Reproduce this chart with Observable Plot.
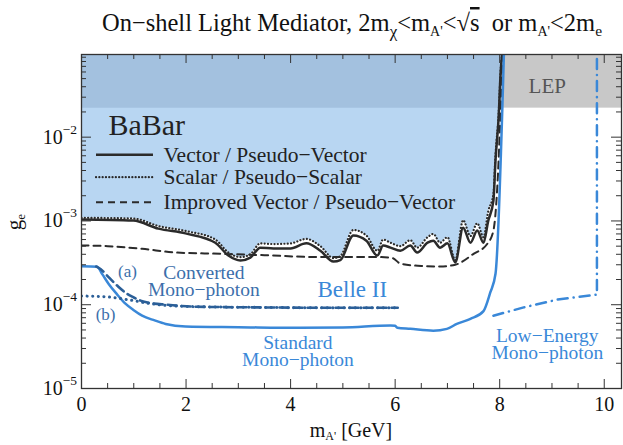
<!DOCTYPE html>
<html><head><meta charset="utf-8">
<script src="https://cdn.jsdelivr.net/npm/d3@7"></script>
<script src="https://cdn.jsdelivr.net/npm/@observablehq/plot@0.6"></script>
<style>
html,body{margin:0;padding:0;background:#fff}
#chart svg{display:block}
</style></head><body><div id="chart"></div>
<script>
// ---------- data ----------
const xMax = 10.33;
const yMin = 1e-5, yTop = 0.097;
const lepBound = 0.0222;

const babarVectorX = [0, 0.99, 1.47, 1.99, 2.56, 2.81, 3.04, 3.23, 3.42, 3.67, 4.0, 4.30, 4.57, 4.82, 4.95, 5.20, 5.45, 5.66, 5.77, 5.91, 6.10, 6.29, 6.42, 6.62, 6.73, 6.86, 7.0, 7.15, 7.30, 7.44, 7.57, 7.69, 7.78, 7.88, 7.92, 7.98, 8.02, 8.05];
const babarVectorG = [1.04e-3, 1.01e-3, 8.1e-4, 7.1e-4, 5.5e-4, 3.86e-4, 3.37e-4, 3.65e-4, 4.8e-4, 4.7e-4, 4.7e-4, 5.4e-4, 4.4e-4, 3.27e-4, 3.4e-4, 6.7e-4, 5.8e-4, 3.86e-4, 5.1e-4, 4.8e-4, 4.4e-4, 5.1e-4, 4.2e-4, 5.5e-4, 5.8e-4, 4.8e-4, 5.4e-4, 3.2e-4, 8.3e-4, 5.5e-4, 7.7e-4, 5.5e-4, 1.0e-3, 1.75e-3, 5.3e-3, 1.73e-2, 6.2e-2, 0.1];

const babarScalarX = [0, 0.99, 1.47, 1.99, 2.56, 2.81, 3.04, 3.23, 3.42, 3.67, 4.0, 4.30, 4.57, 4.82, 4.95, 5.20, 5.45, 5.66, 5.77, 5.91, 6.10, 6.29, 6.42, 6.62, 6.73, 6.86, 7.0, 7.15, 7.30, 7.44, 7.57, 7.69, 7.78, 7.88, 7.92, 7.98, 8.02, 8.05];
const babarScalarG = [1.09e-3, 1.07e-3, 8.7e-4, 7.6e-4, 6.0e-4, 4.2e-4, 3.7e-4, 4.0e-4, 5.4e-4, 5.3e-4, 5.4e-4, 6.1e-4, 5.0e-4, 3.6e-4, 3.8e-4, 7.8e-4, 6.7e-4, 4.4e-4, 6.0e-4, 5.5e-4, 5.0e-4, 5.9e-4, 4.8e-4, 6.4e-4, 7.0e-4, 5.5e-4, 6.4e-4, 3.4e-4, 1.02e-3, 6.6e-4, 9.4e-4, 6.4e-4, 1.3e-3, 2.1e-3, 6.2e-3, 1.9e-2, 6.5e-2, 0.1];

const babarImprovedX = [0, 0.5, 1.16, 1.8, 2.69, 3.5, 4.57, 5.72, 5.95, 6.1, 6.5, 6.86, 7.15, 7.5, 7.76, 7.88, 7.95, 8.0, 8.05];
const babarImprovedG = [5.1e-4, 5.0e-4, 4.65e-4, 4.2e-4, 4.05e-4, 3.9e-4, 3.7e-4, 3.7e-4, 3.6e-4, 3.1e-4, 2.9e-4, 2.86e-4, 3.0e-4, 4.05e-4, 5.3e-4, 7.7e-4, 2.3e-3, 1.1e-2, 0.1];

const standardX = [0, 0.30, 0.40, 0.52, 0.68, 0.84, 1.0, 1.16, 1.4, 1.61, 1.99, 3.0, 4.19, 5.0, 5.91, 6.0, 6.04, 6.29, 6.73, 6.99, 7.18, 7.44, 7.69, 7.82, 7.92, 8.08];
const standardG = [2.88e-4, 2.84e-4, 2.3e-4, 1.77e-4, 1.33e-4, 1.03e-4, 8.6e-5, 7.4e-5, 6.5e-5, 5.9e-5, 5.5e-5, 5.4e-5, 5.3e-5, 5.35e-5, 5.65e-5, 5.6e-5, 5.3e-5, 5.15e-5, 4.9e-5, 5.15e-5, 5.9e-5, 6.8e-5, 8.4e-5, 1.4e-4, 2.34e-4, 0.097];

const convertedAX = [0.28, 0.40, 0.49, 0.70, 0.87, 1.0, 1.13, 1.3, 1.64, 2.1, 3.33, 4.57, 6.05];
const convertedAG = [2.86e-4, 2.55e-4, 2.23e-4, 1.65e-4, 1.35e-4, 1.22e-4, 1.12e-4, 1.05e-4, 1.0e-4, 9.5e-5, 9.3e-5, 9.2e-5, 9.2e-5];

const convertedBX = [0, 0.5, 0.84, 1.0, 1.16, 1.48, 2.1, 3.33, 4.57, 6.05];
const convertedBG = [1.27e-4, 1.24e-4, 1.16e-4, 1.12e-4, 1.07e-4, 1.0e-4, 9.5e-5, 9.3e-5, 9.2e-5, 9.2e-5];

const lowEnergyX = [7.88, 8.46, 9.10, 9.73, 9.86, 9.86];
const lowEnergyG = [7.4e-5, 9.3e-5, 1.15e-4, 1.29e-4, 1.32e-4, 0.097];

const xMajor = [0, 2, 4, 6, 8, 10];
const xMinor = [0.5, 1, 1.5, 2.5, 3, 3.5, 4.5, 5, 5.5, 6.5, 7, 7.5, 8.5, 9, 9.5];
const yMajor = [1e-5, 1e-4, 1e-3, 1e-2];
const yMajorExp = ["−5", "−4", "−3", "−2"];
const yMinor = [-5, -4, -3, -2].flatMap(e => [2,3,4,5,6,7,8,9].map(m => m * Math.pow(10, e))).filter(v => v <= yTop);

const legendLabels = ["Vector / Pseudo−Vector", "Scalar / Pseudo−Scalar", "Improved Vector / Pseudo−Vector"];
const legendRowG = [6.15e-3, 3.33e-3, 1.67e-3];

const zip = (xs, gs) => xs.map((x, i) => ({x, g: gs[i]}));
const vector = zip(babarVectorX, babarVectorG);
const scalar = zip(babarScalarX, babarScalarG);
const improved = zip(babarImprovedX, babarImprovedG);
const standard = zip(standardX, standardG);
const convA = zip(convertedAX, convertedAG);
const convB = zip(convertedBX, convertedBG);
const lowE = zip(lowEnergyX, lowEnergyG);

// ---------- styles ----------
const FONT = "Liberation Serif, Times New Roman, serif";
const C = {
  fill: "#b8d6f2", band: "#a3c1df", lep: "#c8c8c8", black: "#2b2b2b",
  belle: "#3a88d8", dark: "#2b5f98", darkText: "#3c6fab", axis: "#333"
};
const M = {top: 54, right: 2, bottom: 57, left: 81};
const W = 623, H = 445;
const PW = W - M.left - M.right, PH = H - M.top - M.bottom;

const legendRows = legendLabels.map((label, i) => ({label, g: legendRowG[i], i}));
const legendDash = [null, "0.1,3.2", "7,5"];
const legendWidth = [2.5, 2.2, 2];
const legendX1 = 0.287, legendX2 = 1.377, legendTextX = 1.568;

const plot = Plot.plot({
  width: W, height: H,
  marginTop: M.top, marginRight: M.right, marginBottom: M.bottom, marginLeft: M.left,
  x: {domain: [0, xMax], axis: null},
  y: {type: "log", domain: [yMin, yTop], axis: null},
  style: {fontFamily: FONT, background: "white", overflow: "visible"},
  marks: [
    // LEP region
    Plot.rect([0], {x1: 0, x2: xMax, y1: lepBound, y2: yTop, fill: C.lep}),
    // BaBar excluded region
    Plot.areaY(scalar, {x: "x", y1: "g", y2: yTop, fill: C.fill, curve: "monotone-x", clip: true}),
    Plot.areaY(scalar, {x: "x", y1: d => Math.max(d.g, lepBound), y2: yTop, fill: C.band, curve: "monotone-x", clip: true}),
    // BaBar lines
    Plot.line(improved, {x: "x", y: "g", stroke: C.black, strokeWidth: 2, strokeDasharray: "7,5", curve: "monotone-x", clip: true}),
    Plot.line(scalar, {x: "x", y: "g", stroke: C.black, strokeWidth: 2.2, strokeDasharray: "0.1,3.2", strokeLinecap: "round", curve: "monotone-x", clip: true}),
    Plot.line(vector, {x: "x", y: "g", stroke: C.black, strokeWidth: 2.5, curve: "monotone-x", clip: true}),
    // Belle II lines
    Plot.line(standard, {x: "x", y: "g", stroke: C.belle, strokeWidth: 2.5, curve: "monotone-x", clip: true}),
    Plot.line(convA, {x: "x", y: "g", stroke: C.dark, strokeWidth: 2.6, strokeDasharray: "9,5", curve: "monotone-x", clip: true}),
    Plot.line(convB, {x: "x", y: "g", stroke: C.dark, strokeWidth: 3, strokeDasharray: "0.1,5.5", strokeLinecap: "round", curve: "monotone-x", clip: true}),
    Plot.line(lowE, {x: "x", y: "g", stroke: C.belle, strokeWidth: 2.5, strokeDasharray: "10,6,0.1,6", strokeLinecap: "round", clip: true}),
    // legend
    ...legendRows.map(r => Plot.ruleY([r.g], {x1: legendX1, x2: legendX2, stroke: C.black, strokeWidth: legendWidth[r.i], strokeDasharray: legendDash[r.i], strokeLinecap: r.i === 1 ? "round" : "butt"})),
    Plot.text(legendRows, {x: legendTextX, y: "g", text: "label", textAnchor: "start", lineAnchor: "middle", fontSize: 21.5, fill: "#222"}),
    Plot.text(["BaBar"], {x: 0.516, y: 0.01074, text: d => d, textAnchor: "start", lineAnchor: "bottom", fontSize: 30, fill: "#222"}),
    // annotations
    Plot.text(["LEP"], {x: 8.91, y: 0.0334, text: d => d, lineAnchor: "bottom", fontSize: 21, fill: "#555"}),
    Plot.text(["Belle II"], {x: 5.18, y: 1.22e-4, text: d => d, lineAnchor: "bottom", fontSize: 23, fill: C.belle}),
    Plot.text(["Standard\nMono−photon"], {x: 4.14, y: 1.85e-5, text: d => d, lineAnchor: "bottom", lineHeight: 0.88, fontSize: 19.5, fill: C.belle}),
    Plot.text(["Low−Energy\nMono−photon"], {x: 8.91, y: 2.22e-5, text: d => d, lineAnchor: "bottom", lineHeight: 0.88, fontSize: 19.5, fill: C.belle}),
    Plot.text(["Converted\nMono−photon"], {x: 2.34, y: 1.27e-4, text: d => d, lineAnchor: "bottom", lineHeight: 0.86, fontSize: 19.5, fill: C.darkText}),
    Plot.text(["(a)"], {x: 0.88, y: 2.17e-4, text: d => d, lineAnchor: "bottom", fontSize: 17, fill: C.darkText}),
    Plot.text(["(b)"], {x: 0.46, y: 6.65e-5, text: d => d, lineAnchor: "bottom", fontSize: 17, fill: C.darkText}),
    // frame and ticks (inward, on all sides)
    Plot.frame({stroke: C.axis, strokeWidth: 1.3}),
    Plot.tickX(xMajor, {x: d => d, insetTop: PH - 9, stroke: C.axis}),
    Plot.tickX(xMajor, {x: d => d, insetBottom: PH - 9, stroke: C.axis}),
    Plot.tickX(xMinor, {x: d => d, insetTop: PH - 5, stroke: C.axis}),
    Plot.tickX(xMinor, {x: d => d, insetBottom: PH - 5, stroke: C.axis}),
    Plot.tickY(yMajor, {y: d => d, insetRight: PW - 10, stroke: C.axis}),
    Plot.tickY(yMajor, {y: d => d, insetLeft: PW - 10, stroke: C.axis}),
    Plot.tickY(yMinor, {y: d => d, insetRight: PW - 5, stroke: C.axis}),
    Plot.tickY(yMinor, {y: d => d, insetLeft: PW - 5, stroke: C.axis}),
    // x tick labels
    Plot.text(xMajor, {x: d => d, frameAnchor: "bottom", text: d => String(d), dy: 22, lineAnchor: "bottom", fontSize: 20, fill: "#111"})
  ]
});

document.getElementById("chart").appendChild(plot);

// ---------- rich text (superscripts / subscripts) using the plot's scales ----------
const svg = d3.select(plot);
const ys = plot.scale("y");
const xs = plot.scale("x");

// y tick labels 10^n
yMajor.forEach((v, i) => {
  const t = svg.append("text")
    .attr("x", M.left - 4).attr("y", ys.apply(v) + 7)
    .attr("text-anchor", "end").attr("font-family", FONT).attr("fill", "#111").attr("font-size", 20);
  t.append("tspan").text("10");
  t.append("tspan").attr("dy", -10).attr("font-size", 13.5).text(yMajorExp[i]);
});

// x axis label
{
  const t = svg.append("text")
    .attr("x", (xs.apply(0) + xs.apply(xMax)) / 2).attr("y", 437)
    .attr("text-anchor", "middle").attr("font-family", FONT).attr("fill", "#111").attr("font-size", 20);
  t.append("tspan").text("m");
  t.append("tspan").attr("dy", 3).attr("font-size", 12).text("A'");
  t.append("tspan").attr("dy", -3).text(" [GeV]");
}
// y axis label
{
  const t = svg.append("text")
    .attr("transform", `translate(21,${(ys.apply(yMin) + ys.apply(yTop)) / 2 + 1}) rotate(-90)`)
    .attr("text-anchor", "middle").attr("font-family", FONT).attr("fill", "#111").attr("font-size", 21);
  t.append("tspan").text("g");
  t.append("tspan").attr("dy", 4).attr("font-size", 13).text("e");
}
// title
{
  const t = svg.append("text")
    .attr("x", 352).attr("y", 31)
    .attr("text-anchor", "middle").attr("font-family", FONT).attr("fill", "#111").attr("font-size", 24.5);
  const parts = [
    ["On−shell Light Mediator, 2m", 0, 24.5], ["χ", 6, 17], ["<m", -6, 24.5], ["A'", 5, 14], ["<√", -5, 24.5],
    ["s", 0, 24.5, true], ["  or m", 0, 24.5], ["A'", 5, 14], ["<2m", -5, 24.5], ["e", 5, 15.5]
  ];
  parts.forEach(([s, dy, fs, over]) => {
    const sp = t.append("tspan").attr("dy", dy).attr("font-size", fs).text(s);
    if (over) sp.style("text-decoration", "overline");
  });
}
</script>
</body></html>
